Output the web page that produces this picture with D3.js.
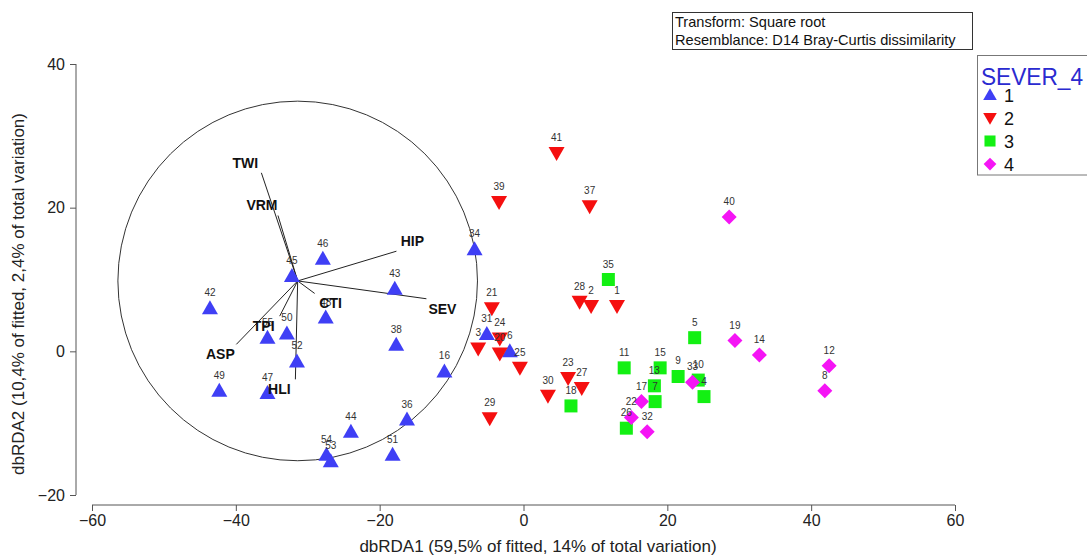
<!DOCTYPE html>
<html>
<head>
<meta charset="utf-8">
<script src="https://cdn.jsdelivr.net/npm/d3@7"></script>
<style>
  html, body { margin: 0; padding: 0; background: #fff; }
  svg { display: block; font-family: Arial, "Liberation Sans", sans-serif; }
</style>
</head>
<body>
<svg id="chart" width="1087" height="555"></svg>
<script>
// ---------- data ----------
const sampleIds = [42,45,46,43,48,50,55,52,38,16,49,47,36,44,54,53,51,34,31,6,
                   41,39,37,28,2,1,21,3,24,20,25,29,30,23,27,
                   35,18,11,26,5,15,13,7,9,10,4,
                   17,22,32,33,19,14,40,12,8];
const dbRDA1 = [-43.6,-32.2,-27.9,-17.9,-27.5,-32.9,-35.6,-31.5,-17.7,-11.0,-42.3,-35.6,-16.2,-24.0,-27.4,-26.8,-18.2,-6.8,-5.1,-1.9,
                4.6,-3.4,9.2,7.8,9.4,13.0,-4.4,-6.3,-3.3,-3.3,-0.5,-4.7,3.4,6.2,8.1,
                11.8,6.6,14.0,14.3,23.8,19.0,18.2,18.3,21.5,24.3,25.1,
                16.4,15.0,17.2,23.5,29.4,32.8,28.6,42.5,41.9];
const dbRDA2 = [6.0,10.5,12.9,8.7,4.7,2.5,1.9,-1.4,0.9,-2.8,-5.5,-5.8,-9.5,-11.2,-14.4,-15.3,-14.4,14.2,2.4,0.0,
                27.6,20.8,20.2,6.9,6.3,6.3,6.0,0.4,1.8,-0.3,-2.3,-9.3,-6.2,-3.7,-5.1,
                10.0,-7.6,-2.3,-10.7,1.9,-2.3,-4.8,-7.0,-3.5,-4.0,-6.3,
                -7.0,-9.2,-11.2,-4.3,1.5,-0.5,18.7,-2.0,-5.5];
const sever4 = [1,1,1,1,1,1,1,1,1,1,1,1,1,1,1,1,1,1,1,1,
                2,2,2,2,2,2,2,2,2,2,2,2,2,2,2,
                3,3,3,3,3,3,3,3,3,3,3,
                4,4,4,4,4,4,4,4,4];
const groups = [1,2,3,4];

// predictor vectors (end points relative to circle centre, in axis units)
const vectorNames = ["TWI","VRM","HIP","SEV","CTI","TPI","ASP","HLI"];
const vectorDx = [-5.05,-2.74,13.73,17.9,2.36,-2.5,-8.53,-0.32];
const vectorDy = [15.05,9.11,4.14,-2.48,-1.74,-4.9,-8.83,-13.7];
const circleCentre = [-31.4, 9.8];
const circleRadius = 25;

const xTicks = [-60,-40,-20,0,20,40,60];
const yTicks = [-20,0,20,40];
const xTitle = "dbRDA1 (59,5% of fitted, 14% of total variation)";
const yTitle = "dbRDA2 (10,4% of fitted, 2,4% of total variation)";
const infoLines = ["Transform: Square root", "Resemblance: D14 Bray-Curtis dissimilarity"];
const legendTitle = "SEVER_4";

// ---------- layout ----------
const colors = {1: "#3f3ff5", 2: "#f50f0f", 3: "#13f013", 4: "#f514f5"};
const svg = d3.select("#chart");
const x = d3.scaleLinear().domain([-60, 60]).range([92, 955]);
const y = d3.scaleLinear().domain([-20, 40]).range([495, 64]);

function markerPath(g, s) {
  s = s || 1;
  const p = d3.path();
  if (g === 1) { p.moveTo(0, -8*s); p.lineTo(8*s, 6*s); p.lineTo(-8*s, 6*s); p.closePath(); }
  else if (g === 2) { p.moveTo(0, 8*s); p.lineTo(8*s, -6*s); p.lineTo(-8*s, -6*s); p.closePath(); }
  else if (g === 3) { p.rect(-6.5*s, -6.5*s, 13*s, 13*s); }
  else { p.moveTo(0, -7.5*s); p.lineTo(7.5*s, 0); p.lineTo(0, 7.5*s); p.lineTo(-7.5*s, 0); p.closePath(); }
  return p.toString();
}

// axes
const xAxis = svg.append("g").attr("transform", "translate(0,505)")
  .call(d3.axisBottom(x).tickValues(xTicks).tickSize(6).tickPadding(4).tickFormat(d3.format("d")));
const yAxis = svg.append("g").attr("transform", "translate(76,0)")
  .call(d3.axisLeft(y).tickValues(yTicks).tickSize(6).tickPadding(5).tickFormat(d3.format("d")));
[xAxis, yAxis].forEach(a => {
  a.select(".domain").attr("stroke", "#555").attr("d", null);
  a.selectAll(".tick line").attr("stroke", "#555");
  a.selectAll(".tick text").attr("font-size", 16).attr("fill", "#222")
    .attr("font-family", "Arial, 'Liberation Sans', sans-serif");
});
xAxis.append("line").attr("x1", x(-60)).attr("x2", x(60)).attr("y1", 0).attr("y2", 0).attr("stroke", "#555");
yAxis.append("line").attr("y1", y(-20)).attr("y2", y(40)).attr("x1", 0).attr("x2", 0).attr("stroke", "#555");

svg.append("text").attr("x", 538).attr("y", 552).attr("text-anchor", "middle")
  .attr("font-size", 17).attr("fill", "#222").text(xTitle);
svg.append("text").attr("transform", "translate(24,294) rotate(-90)").attr("text-anchor", "middle")
  .attr("font-size", 17).attr("fill", "#222").text(yTitle);

// circle and vectors
const cx = x(circleCentre[0]), cy = y(circleCentre[1]);
const rPx = x(circleRadius) - x(0);
svg.append("circle").attr("cx", cx).attr("cy", cy).attr("r", rPx)
  .attr("fill", "none").attr("stroke", "#333").attr("stroke-width", 1);

const vecs = vectorNames.map((n, i) => ({
  name: n,
  x2: x(circleCentre[0] + vectorDx[i]),
  y2: y(circleCentre[1] + vectorDy[i]),
  sx: Math.sign(vectorDx[i]), sy: Math.sign(vectorDy[i])
}));
svg.append("g").selectAll("line").data(vecs).join("line")
  .attr("x1", cx).attr("y1", cy).attr("x2", d => d.x2).attr("y2", d => d.y2)
  .attr("stroke", "#222").attr("stroke-width", 1);

// points
const pts = sampleIds.map((id, i) => ({id, px: x(dbRDA1[i]), py: y(dbRDA2[i]), g: sever4[i]}));
svg.append("g").selectAll("path").data(pts).join("path")
  .attr("transform", d => `translate(${d.px},${d.py})`)
  .attr("d", d => markerPath(d.g)).attr("fill", d => colors[d.g]);
svg.append("g").selectAll("text").data(pts).join("text")
  .attr("x", d => d.px).attr("y", d => d.py - 12).attr("text-anchor", "middle")
  .attr("font-size", 10).attr("fill", "#333").text(d => d.id);

// vector labels
svg.append("g").selectAll("text").data(vecs).join("text")
  .attr("x", d => d.x2 + d.sx * 16).attr("y", d => d.y2 - d.sy * 10 + 5)
  .attr("text-anchor", "middle").attr("font-size", 14).attr("font-weight", "bold")
  .attr("fill", "#111").text(d => d.name);

// info box
svg.append("rect").attr("x", 672.5).attr("y", 12.5).attr("width", 300).attr("height", 37)
  .attr("fill", "#fff").attr("stroke", "#333");
svg.append("g").selectAll("text").data(infoLines).join("text")
  .attr("x", 675).attr("y", (d, i) => 26.5 + i * 18.5).attr("font-size", 14.6).attr("fill", "#111").text(d => d);

// legend
const lg = svg.append("g");
lg.append("rect").attr("x", 977.5).attr("y", 55.5).attr("width", 120).attr("height", 119.5)
  .attr("fill", "#fff").attr("stroke", "#777");
lg.append("text").attr("x", 981).attr("y", 85).attr("font-size", 24)
  .attr("textLength", 102).attr("lengthAdjust", "spacingAndGlyphs")
  .attr("fill", "#2a2ad0").text(legendTitle);
const items = lg.selectAll("g.item").data(groups).join("g").attr("class", "item")
  .attr("transform", (d, i) => `translate(990,${95 + i * 23})`);
items.append("path").attr("d", d => markerPath(d, 0.85)).attr("fill", d => colors[d]);
items.append("text").attr("x", 14).attr("y", 6.5).attr("font-size", 18).attr("fill", "#111").text(d => d);
</script>
</body>
</html>
